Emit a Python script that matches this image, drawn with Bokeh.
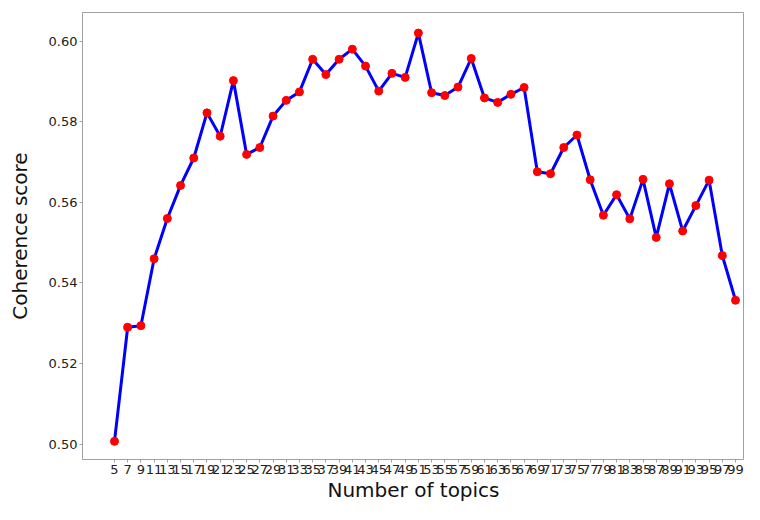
from bokeh.plotting import figure
from bokeh.models import FixedTicker, Range1d, CustomJSTickFormatter
from bokeh.embed import file_html
from bokeh.resources import INLINE

topics = list(range(5, 100, 2))
coherence = [
    0.5007, 0.5290, 0.5294, 0.5460, 0.5560, 0.5642, 0.5710, 0.5822,
    0.5764, 0.5902, 0.5719, 0.5736, 0.5814, 0.5853, 0.5874, 0.5955,
    0.5917, 0.5955, 0.5980, 0.5938, 0.5876, 0.5920, 0.5910, 0.6020,
    0.5872, 0.5865, 0.5886, 0.5957, 0.5859, 0.5848, 0.5868, 0.5885,
    0.5676, 0.5671, 0.5736, 0.5767, 0.5656, 0.5568, 0.5619, 0.5559,
    0.5657, 0.5513, 0.5646, 0.5529, 0.5592, 0.5655, 0.5468, 0.5357,
]
y_ticks = [0.50, 0.52, 0.54, 0.56, 0.58, 0.60]
x_title = "Number of topics"
y_title = "Coherence score"

p = figure(width=744, height=504, output_backend="svg", toolbar_location=None,
           x_range=Range1d(0.16, 100.36), y_range=Range1d(0.4962, 0.6071),
           min_border_left=82, min_border_right=0, min_border_top=12, min_border_bottom=42)
p.background_fill_color = "white"
p.border_fill_color = "white"
p.grid.visible = False
p.outline_line_color = "#a0a0a0"
p.outline_line_width = 1

p.line(topics, coherence, line_color="#0000ff", line_width=3)
p.scatter(topics, coherence, size=8, fill_color="#ff0000", line_color="#ff0000")

p.xaxis.ticker = FixedTicker(ticks=topics)
p.yaxis.ticker = FixedTicker(ticks=y_ticks)
p.yaxis.formatter = CustomJSTickFormatter(code="return tick.toFixed(2);")

for ax in (p.xaxis[0], p.yaxis[0]):
    ax.axis_line_color = None
    ax.major_tick_line_color = "#a0a0a0"
    ax.major_tick_out = 3
    ax.major_tick_in = 0
    ax.minor_tick_line_color = None
    ax.major_label_text_font = "DejaVu Sans"
    ax.major_label_text_font_size = "13px"
    ax.major_label_text_color = "#222222"
    ax.axis_label_text_font = "DejaVu Sans"
    ax.axis_label_text_font_size = "20px"
    ax.axis_label_text_font_style = "normal"
    ax.axis_label_text_color = "#111111"

p.xaxis.axis_label = x_title
p.yaxis.axis_label = y_title
p.xaxis.major_label_standoff = 2
p.xaxis.axis_label_standoff = 1
p.yaxis.major_label_standoff = 2
p.yaxis.axis_label_standoff = 14

open("out.html", "w").write(file_html(p, INLINE))
